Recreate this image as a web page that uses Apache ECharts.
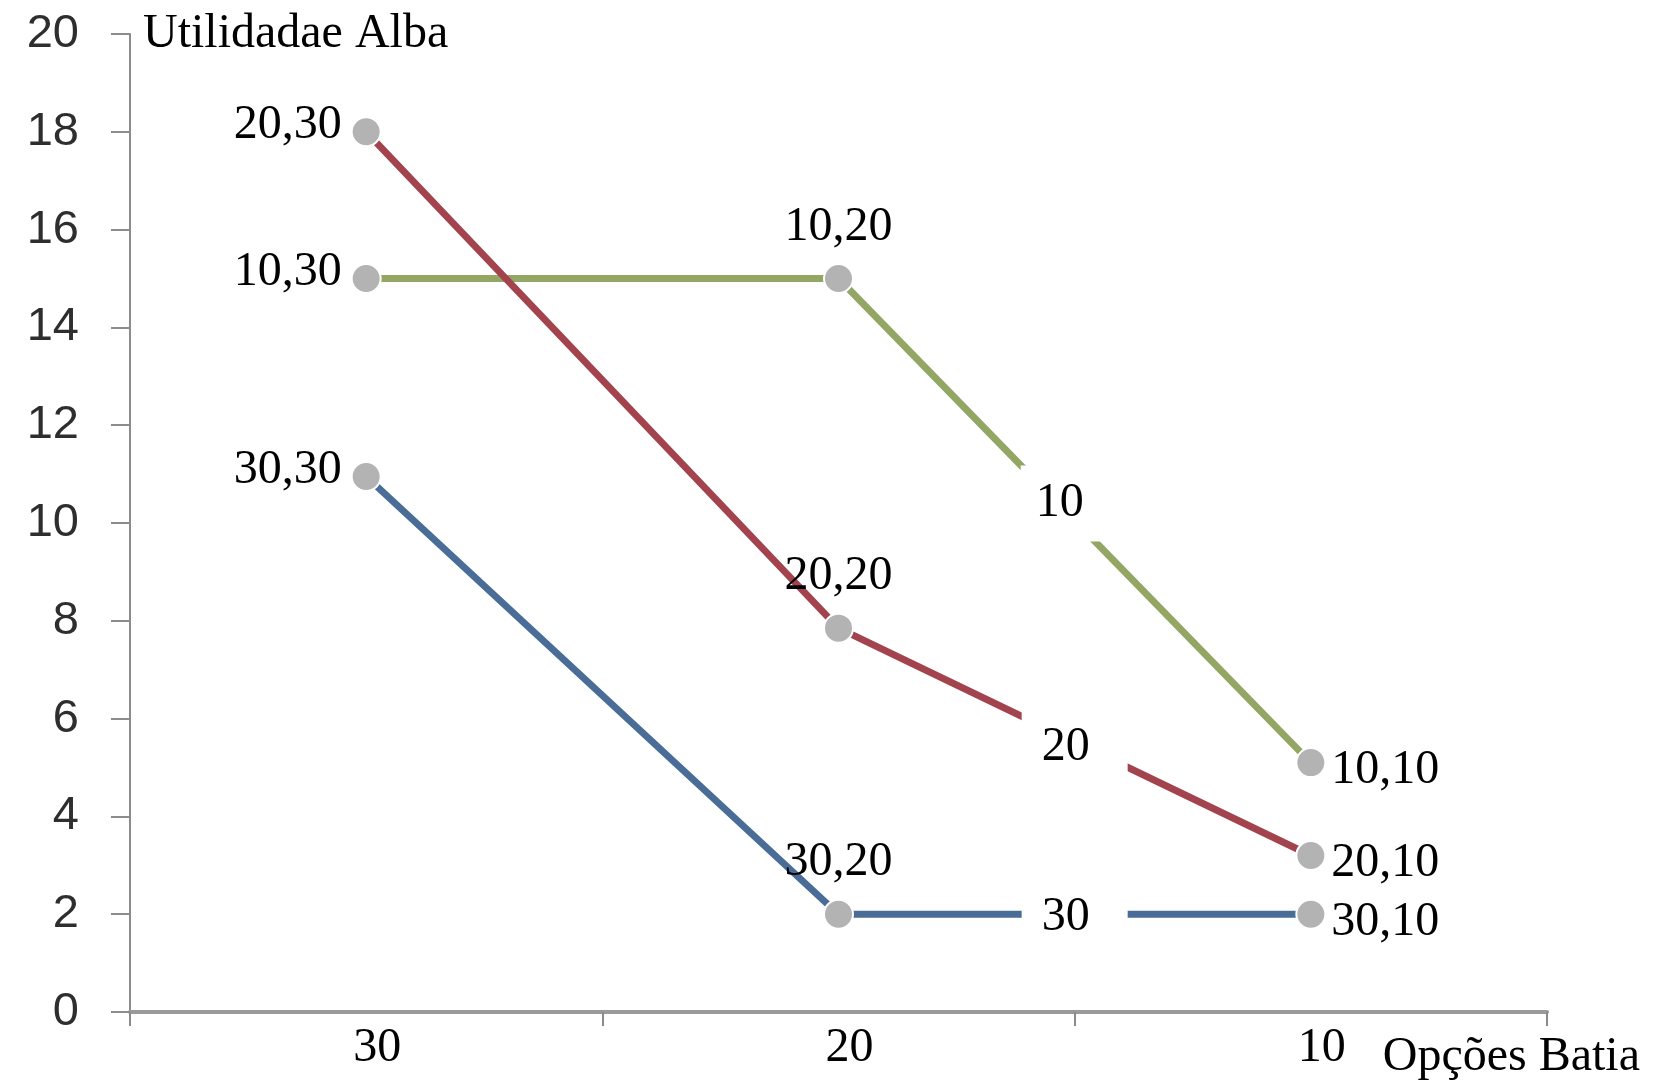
<!DOCTYPE html>
<html>
<head>
<meta charset="utf-8">
<script src="https://cdn.jsdelivr.net/npm/echarts@6/dist/echarts.min.js"></script>
<style>
html,body{margin:0;padding:0;background:#fff;}
#chart{width:1653px;height:1084px;}
</style>
</head>
<body>
<div id="chart"></div>
<script>
// Batia's options (x categories)
const categories = ['30', '20', '10'];
// Alba's options (series)
const seriesNames = ['10', '20', '30'];
const values10 = [15, 15, 5.1];
const values20 = [18, 7.85, 3.2];
const values30 = [10.95, 2, 2];
const yTicks = [0, 2, 4, 6, 8, 10, 12, 14, 16, 18, 20];
// Boxed series labels placed between the categories "20" and "10"
const boxLabels = ['10', '20', '30'];
const boxX = [2, 2, 2];
const boxY = [10.4, 5.42, 1.94];

const colors = ['#93a664', '#a2434e', '#4a6d97'];
const serif = '"Liberation Serif", "Times New Roman", serif';

function pointLabels(vals) {
  return vals.map((v, i) => {
    let label;
    if (i === 0) label = { position: 'left', distance: 9, offset: [0, -6] };
    else if (i === 1) label = { position: 'top', distance: 12 };
    else label = { position: 'right', distance: 5, offset: [0, 8] };
    return { value: v, label: label };
  });
}

const allVals = [values10, values20, values30];
const lineSeries = seriesNames.map((n, k) => ({
  name: n,
  type: 'line',
  xAxisIndex: 0,
  data: pointLabels(allVals[k]),
  symbol: 'circle',
  symbolSize: 29,
  lineStyle: { color: colors[k], width: 7 },
  itemStyle: { color: '#b3b3b3', borderColor: '#ffffff', borderWidth: 2 },
  label: {
    show: true,
    fontFamily: serif,
    fontSize: 48,
    color: '#000',
    formatter: (p) => n + ',' + categories[p.dataIndex]
  },
  emphasis: { disabled: true },
  z: 3
}));

const boxPads = [[14, 45, 14, 15], [14, 38, 14, 20], [14, 38, 14, 20]];
const boxSeries = {
  type: 'scatter',
  xAxisIndex: 1,
  symbolSize: 1,
  itemStyle: { color: '#ffffff', opacity: 1 },
  data: boxLabels.map((t, i) => ({
    value: [boxX[i], boxY[i]],
    name: t,
    label: { padding: boxPads[i] }
  })),
  label: {
    show: true,
    position: 'inside',
    formatter: (p) => p.name,
    fontFamily: serif,
    fontSize: 48,
    lineHeight: 48,
    color: '#000000',
    opacity: 1,
    backgroundColor: '#ffffff'
  },
  emphasis: { disabled: true },
  z: 20
};

const chart = echarts.init(document.getElementById('chart'), null, { renderer: 'canvas' });
chart.setOption({
  animation: false,
  backgroundColor: '#ffffff',
  grid: { left: 130, right: 106, top: 34, bottom: 72, containLabel: false },
  xAxis: [{
    type: 'category',
    data: categories,
    boundaryGap: true,
    name: 'Opções Batia',
    nameLocation: 'end',
    nameGap: 93,
    nameTextStyle: {
      fontFamily: serif, fontSize: 48, color: '#000',
      align: 'right', verticalAlign: 'top', padding: [21, 0, 0, 0]
    },
    axisLine: { lineStyle: { color: '#9a9a9a', width: 4 } },
    axisTick: { show: true, alignWithLabel: false, length: 14, lineStyle: { color: '#8a8a8a', width: 2 } },
    axisLabel: { fontFamily: serif, fontSize: 48, color: '#000', margin: 12, padding: [0, 0, 0, 22] },
    splitLine: { show: false }
  }, {
    type: 'value',
    min: 0, max: 3,
    show: false
  }],
  yAxis: {
    type: 'value',
    min: yTicks[0],
    max: yTicks[yTicks.length - 1],
    interval: yTicks[1] - yTicks[0],
    name: 'Utilidadae Alba',
    nameLocation: 'end',
    nameGap: 0,
    nameTextStyle: {
      fontFamily: serif, fontSize: 48, color: '#000',
      align: 'left', verticalAlign: 'middle', padding: [0, 0, 0, 13]
    },
    axisLine: { show: true, lineStyle: { color: '#8c8c8c', width: 2 } },
    axisTick: { show: true, length: 19, lineStyle: { color: '#8c8c8c', width: 2 } },
    axisLabel: { fontFamily: '"Liberation Sans", Arial, sans-serif', fontSize: 47, color: '#2e2e2e', margin: 51 },
    splitLine: { show: false }
  },
  series: lineSeries.concat([boxSeries])
});
</script>
</body>
</html>
